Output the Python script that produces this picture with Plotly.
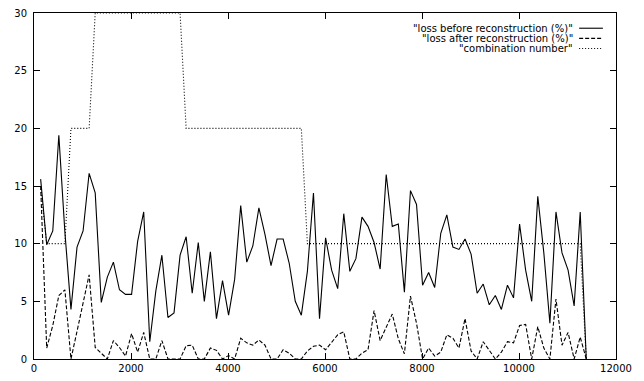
import plotly.graph_objects as go

# x positions of the samples
x_vals = [137, 262, 387, 512, 637, 762, 887, 1012, 1137, 1262,
          1387, 1512, 1637, 1762, 1887, 2012, 2137, 2262, 2387, 2512,
          2637, 2762, 2887, 3012, 3137, 3262, 3387, 3512, 3637, 3762,
          3887, 4012, 4137, 4262, 4387, 4512, 4637, 4762, 4887, 5012,
          5137, 5262, 5387, 5512, 5637, 5762, 5887, 6012, 6137, 6262,
          6387, 6512, 6637, 6762, 6887, 7012, 7137, 7262, 7387, 7512,
          7637, 7762, 7887, 8012, 8137, 8262, 8387, 8512, 8637, 8762,
          8887, 9012, 9137, 9262, 9387, 9512, 9637, 9762, 9887, 10012,
          10137, 10262, 10387, 10512, 10637, 10762, 10887, 11012, 11137, 11262,
          11387]

loss_before = [15.6, 9.9, 11.1, 19.4, 11.0, 4.3, 9.7, 11.1, 16.1, 14.4,
               4.9, 7.1, 8.4, 6.0, 5.6, 5.6, 10.2, 12.75, 1.5, 5.9,
               9.0, 3.6, 4.0, 9.0, 10.6, 5.7, 10.1, 5.0, 9.3, 3.5,
               6.8, 3.8, 6.9, 13.3, 8.4, 9.8, 13.1, 10.8, 8.1, 10.4,
               10.4, 8.3, 5.0, 3.8, 7.6, 14.4, 3.5, 10.5, 7.7, 6.1,
               12.6, 7.6, 8.7, 12.3, 11.5, 10.1, 7.8, 16.0, 11.5, 11.7,
               5.8, 14.6, 13.4, 6.4, 7.5, 6.2, 10.9, 12.5, 9.7, 9.5,
               10.4, 9.1, 5.7, 6.5, 4.7, 5.5, 4.3, 6.4, 5.3, 11.7,
               7.7, 5.0, 14.1, 9.2, 3.1, 12.75, 9.2, 7.7, 4.6, 12.75,
               0.0]

loss_after = [15.0, 0.95, 2.9, 5.5, 6.0, 0.0, 2.4, 4.9, 7.3, 1.0,
              0.5, 0.0, 1.6, 1.0, 0.25, 2.2, 0.6, 2.3, 0.0, 0.0,
              1.6, 0.0, 0.0, 0.0, 1.15, 1.2, 0.0, 0.0, 0.95, 0.75,
              0.0, 0.3, 0.0, 1.8, 1.4, 1.2, 1.65, 1.2, 0.0, 0.0,
              0.8, 0.5, 0.0, 0.0, 0.7, 1.1, 1.2, 0.8, 1.45, 2.1,
              2.35, 0.0, 0.0, 0.5, 0.8, 4.2, 1.6, 2.7, 3.9, 1.75,
              0.45, 5.45, 3.1, 0.0, 0.95, 0.25, 0.6, 2.1, 1.8, 0.95,
              3.5, 0.7, 0.0, 1.5, 0.7, 0.0, 0.6, 1.5, 1.4, 2.9,
              3.0, 0.0, 2.8, 0.95, 0.0, 5.2, 1.2, 2.3, 0.0, 1.9,
              0.0]

combination = [15, 10, 10, 10, 10, 20, 20, 20, 20, 30,
               30, 30, 30, 30, 30, 30, 30, 30, 30, 30,
               30, 30, 30, 30, 20, 20, 20, 20, 20, 20,
               20, 20, 20, 20, 20, 20, 20, 20, 20, 20,
               20, 20, 20, 20, 10, 10, 10, 10, 10, 10,
               10, 10, 10, 10, 10, 10, 10, 10, 10, 10,
               10, 10, 10, 10, 10, 10, 10, 10, 10, 10,
               10, 10, 10, 10, 10, 10, 10, 10, 10, 10,
               10, 10, 10, 10, 10, 10, 10, 10, 10, 10,
               0]

series_names = ['"loss before reconstruction (%)"',
                '"loss after reconstruction (%)"',
                '"combination number"']

x_ticks = [0, 2000, 4000, 6000, 8000, 10000, 12000]
y_ticks = [0, 5, 10, 15, 20, 25, 30]

FONT = "DejaVu Sans, Liberation Sans, Arial, sans-serif"
dashes = ["solid", "4px,2px", "1px,2px"]
series = [loss_before, loss_after, combination]

fig = go.Figure()
for name, ys, d in zip(series_names, series, dashes):
    fig.add_trace(go.Scatter(x=x_vals, y=ys, mode="lines", name=name,
                             line=dict(color="black", width=1.1, dash=d),
                             showlegend=False, hoverinfo="skip"))

# gnuplot-style key: right-aligned text followed by a line sample
key_text_x = 11130
key_line_x0, key_line_x1 = 11240, 11730
key_rows_y = [28.68, 27.80, 26.92]
for name, d, ky in zip(series_names, dashes, key_rows_y):
    fig.add_annotation(x=key_text_x, y=ky, xref="x", yref="y", text=name,
                       showarrow=False, xanchor="right", yanchor="middle",
                       borderpad=0,
                       font=dict(family=FONT, size=10, color="black"))
    fig.add_shape(type="line", xref="x", yref="y", x0=key_line_x0, x1=key_line_x1,
                  y0=ky, y1=ky, line=dict(color="black", width=1.1, dash=d))

axis_common = dict(showline=True, linecolor="black", linewidth=1, mirror="allticks",
                   ticks="inside", ticklen=6, tickcolor="black", tickwidth=1,
                   showgrid=False, zeroline=False,
                   tickfont=dict(family=FONT, size=10, color="black"))

fig.update_xaxes(range=[0, 12000], tickvals=x_ticks,
                 ticktext=[str(v) for v in x_ticks], **axis_common)
fig.update_yaxes(range=[0, 30], tickvals=y_ticks,
                 ticktext=[str(v) for v in y_ticks], ticklabelstandoff=4, **axis_common)

fig.update_layout(width=644, height=381,
                  margin=dict(l=34, r=28, t=7, b=18),
                  paper_bgcolor="white", plot_bgcolor="white",
                  font=dict(family=FONT, size=10, color="black"))

fig.write_html("out.html", config={"displayModeBar": False, "staticPlot": True},
               post_script="document.body.style.margin='0';document.body.style.overflow='hidden';")
